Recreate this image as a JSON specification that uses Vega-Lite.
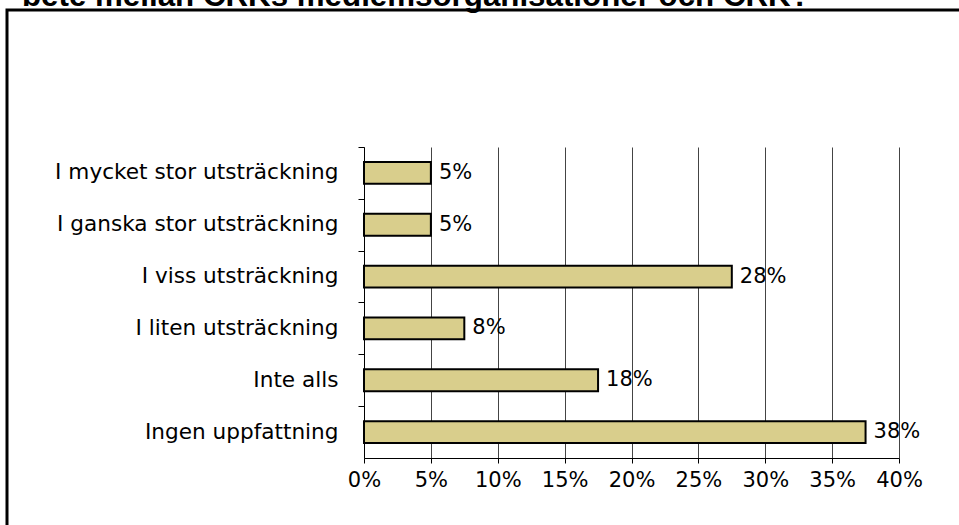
{
  "$schema": "https://vega.github.io/schema/vega-lite/v6.json",
  "autosize": "none",
  "padding": {"left": 7, "top": 10, "right": -10, "bottom": -70},
  "width": 962,
  "height": 585,
  "title": {
    "text": "bete mellan CRKs medlemsorganisationer och CRK?",
    "anchor": "start",
    "frame": "group",
    "font": "Liberation Sans",
    "fontSize": 31.3,
    "fontWeight": "bold",
    "color": "black",
    "baseline": "alphabetic",
    "offset": 4,
    "dx": 15,
    "dy": 31
  },
  "data": {
    "values": [
      {"svar": "I mycket stor utsträckning", "andel": 0.05, "etikett": "5%"},
      {"svar": "I ganska stor utsträckning", "andel": 0.05, "etikett": "5%"},
      {"svar": "I viss utsträckning", "andel": 0.275, "etikett": "28%"},
      {"svar": "I liten utsträckning", "andel": 0.075, "etikett": "8%"},
      {"svar": "Inte alls", "andel": 0.175, "etikett": "18%"},
      {"svar": "Ingen uppfattning", "andel": 0.375, "etikett": "38%"}
    ]
  },
  "encoding": {
    "y": {
      "field": "svar",
      "type": "nominal",
      "sort": null,
      "title": null,
      "scale": {"range": [137, 448], "paddingInner": 0.58, "paddingOuter": 0.29},
      "axis": {
        "orient": "left",
        "offset": -357,
        "tickOffset": -26,
        "labelOffset": 26,
        "domainColor": "black",
        "domainWidth": 1,
        "tickColor": "black",
        "tickSize": 6,
        "labelPadding": 20,
        "labelLimit": 500,
        "labelFont": "DejaVu Sans",
        "labelFontSize": 21.6,
        "labelColor": "black",
        "grid": false
      }
    },
    "x": {
      "field": "andel",
      "type": "quantitative",
      "title": null,
      "scale": {"domain": [0, 0.4], "range": [357, 892], "nice": false, "zero": true},
      "axis": {
        "orient": "bottom",
        "offset": -137,
        "values": [0, 0.05, 0.1, 0.15, 0.2, 0.25, 0.3, 0.35, 0.4],
        "format": ".0%",
        "grid": true,
        "gridColor": "#444",
        "gridOpacity": 1,
        "gridWidth": 1,
        "domainColor": "black",
        "tickColor": "black",
        "tickSize": 5,
        "labelPadding": 6,
        "labelFlush": false,
        "labelFont": "DejaVu Sans",
        "labelFontSize": 21,
        "labelColor": "black"
      }
    }
  },
  "layer": [
    {
      "mark": {"type": "bar", "fill": "#D9CE8C", "stroke": "black", "strokeWidth": 2, "clip": false}
    },
    {
      "mark": {"type": "text", "align": "left", "baseline": "middle", "dx": 8, "font": "DejaVu Sans", "fontSize": 21, "color": "black", "clip": false},
      "encoding": {"text": {"field": "etikett"}}
    }
  ],
  "config": {
    "view": {"stroke": "black", "strokeWidth": 3, "fill": "white"},
    "background": "white"
  }
}
